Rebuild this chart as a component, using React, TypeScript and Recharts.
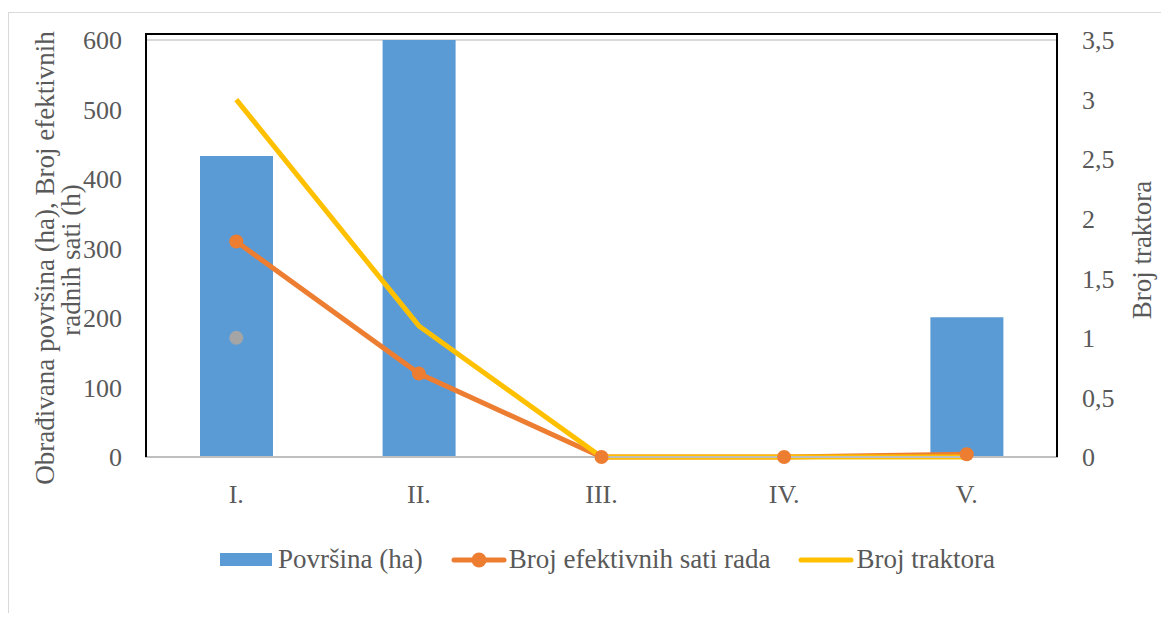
import React from "react";
import {
  ComposedChart,
  Bar,
  Line,
  XAxis,
  YAxis,
  CartesianGrid,
} from "recharts";

const categories = ["I.", "II.", "III.", "IV.", "V."];
const povrsina = [433, 600, 0, 0, 201];
const efektivniSati = [310, 120, 0, 0, 4];
const brojTraktora = [3, 1.1, 0, 0, 0];
const izdvojenaTacka = [1, null, null, null, null];

const leftTicks = [0, 100, 200, 300, 400, 500, 600];
const rightTicks = [0, 0.5, 1, 1.5, 2, 2.5, 3, 3.5];

const data = categories.map((name, i) => ({
  name,
  povrsina: povrsina[i],
  sati: efektivniSati[i],
  traktori: brojTraktora[i],
  tacka: izdvojenaTacka[i],
}));

const FONT = "'Liberation Serif', 'Times New Roman', serif";
const TEXT = "#595959";
const tickStyle = { fill: TEXT, fontSize: 26, fontFamily: FONT };

function LegendItem({ kind, color, label }: { kind: "bar" | "line" | "dot"; color: string; label: string }) {
  return (
    <div style={{ display: "flex", alignItems: "center", marginRight: 28 }}>
      <svg width={56} height={20} style={{ marginRight: 2 }}>
        {kind === "bar" ? (
          <rect x={0} y={3} width={52} height={13} fill={color} />
        ) : (
          <>
            <line x1={3} y1={10} x2={53} y2={10} stroke={color} strokeWidth={5} strokeLinecap="round" />
            {kind === "dot" && <circle cx={28} cy={10} r={7.5} fill={color} />}
          </>
        )}
      </svg>
      <span>{label}</span>
    </div>
  );
}

export default function App() {
  return (
    <div style={{ position: "relative", width: 1161, height: 605 }}>
      <div
        style={{
          position: "absolute",
          left: 0,
          top: 4,
          width: 1161,
          height: 601,
          borderLeft: "1px solid #d9d9d9",
          borderTop: "1px solid #d9d9d9",
          boxSizing: "border-box",
        }}
      />
      <ComposedChart
        width={1161}
        height={600}
        data={data}
        margin={{ top: 32, right: 41, bottom: 111, left: 57 }}
      >
        <CartesianGrid vertical={false} stroke="#d9d9d9" strokeWidth={2} />
        <XAxis
          dataKey="name"
          tick={tickStyle}
          tickLine={false}
          axisLine={{ stroke: "#bfbfbf", strokeWidth: 2 }}
          tickMargin={22}
          height={40}
        />
        <YAxis
          yAxisId="left"
          domain={[0, 600]}
          ticks={leftTicks}
          tick={tickStyle}
          tickLine={false}
          axisLine={false}
          tickMargin={17}
          width={80}
          label={{
            content: () => (
              <g fill={TEXT} fontFamily={FONT} fontSize={27}>
                <text x={37} y={250} textAnchor="middle" transform="rotate(-90, 37, 250)" dominantBaseline="central">
                  Obrađivana površina (ha), Broj efektivnih
                </text>
                <text x={63} y={252} textAnchor="middle" transform="rotate(-90, 63, 252)" dominantBaseline="central">
                  radnih sati (h)
                </text>
              </g>
            ),
          }}
        />
        <YAxis
          yAxisId="right"
          orientation="right"
          domain={[0, 3.5]}
          ticks={rightTicks}
          tick={tickStyle}
          tickFormatter={(v: number) => String(v).replace(".", ",")}
          tickLine={false}
          axisLine={false}
          tickMargin={18}
          width={70}
          label={{
            content: () => (
              <text
                x={1134}
                y={242}
                textAnchor="middle"
                transform="rotate(-90, 1134, 242)"
                dominantBaseline="central"
                fill={TEXT}
                fontFamily={FONT}
                fontSize={27}
              >
                Broj traktora
              </text>
            ),
          }}
        />
        <Bar yAxisId="left" dataKey="povrsina" name="Površina (ha)" fill="#5b9bd5" barSize={73} isAnimationActive={false} />
        <Line
          yAxisId="left"
          dataKey="sati"
          name="Broj efektivnih sati rada"
          stroke="#ed7d31"
          strokeWidth={5}
          dot={{ r: 7, fill: "#ed7d31", stroke: "none" }}
          isAnimationActive={false}
        />
        <Line
          yAxisId="right"
          dataKey="traktori"
          name="Broj traktora"
          stroke="#ffc000"
          strokeWidth={5}
          dot={false}
          isAnimationActive={false}
        />
        <Line
          yAxisId="right"
          dataKey="tacka"
          legendType="none"
          stroke="none"
          dot={{ r: 7, fill: "#a5a5a5", stroke: "none" }}
          isAnimationActive={false}
        />
      </ComposedChart>
      {/* black frame around the plot area */}
      <div
        style={{
          position: "absolute",
          left: 137,
          top: 25,
          width: 913,
          height: 424,
          border: "2px solid #000",
          borderBottom: "none",
          boxSizing: "border-box",
          pointerEvents: "none",
        }}
      />
      <div
        style={{
          position: "absolute",
          left: 212,
          top: 536,
          display: "flex",
          fontFamily: FONT,
          fontSize: 27,
          color: TEXT,
          whiteSpace: "nowrap",
        }}
      >
        <LegendItem kind="bar" color="#5b9bd5" label="Površina (ha)" />
        <LegendItem kind="dot" color="#ed7d31" label="Broj efektivnih sati rada" />
        <LegendItem kind="line" color="#ffc000" label="Broj traktora" />
      </div>
    </div>
  );
}
